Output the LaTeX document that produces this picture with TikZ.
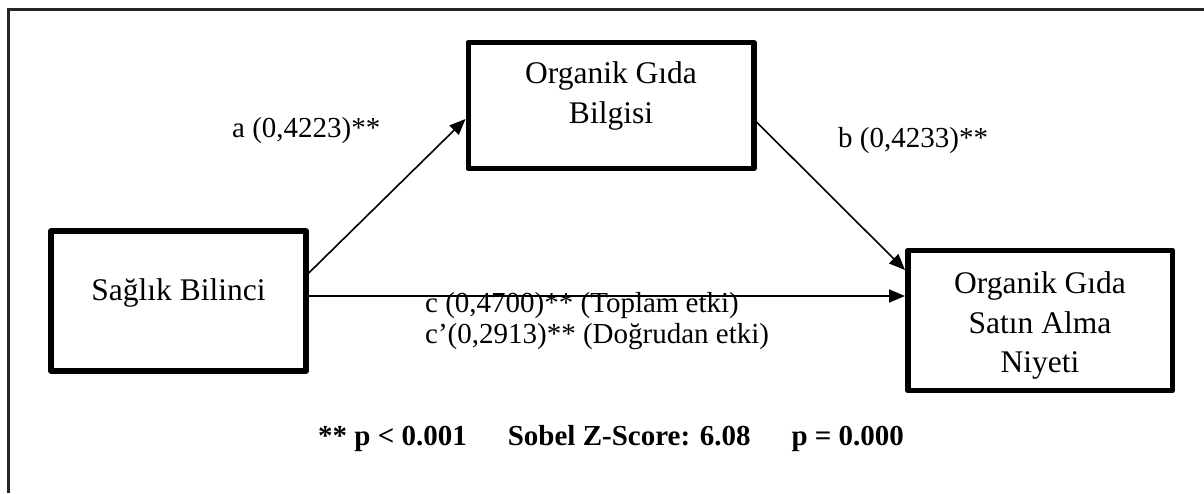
\documentclass[tikz,border=0pt]{standalone}
\usepackage{fontspec}
\setmainfont{Liberation Serif}
\usetikzlibrary{arrows.meta}
\begin{document}
\begin{tikzpicture}[x=1pt,y=-1pt,
  boxst/.style={draw=black, line width=5.5pt, line join=round, inner sep=0pt},
  boxtext/.style={font=\fontsize{31.5}{38}\selectfont, inner sep=0pt, anchor=base},
  lbl/.style={font=\fontsize{29}{34}\selectfont, inner sep=0pt, anchor=base west},
  bot/.style={font=\fontsize{29}{34}\selectfont\bfseries, inner sep=0pt, anchor=base west},
  arr/.style={line width=1.6pt, -{Triangle[length=16pt,width=13pt]}},
  frame/.style={line width=3pt, draw=black!85}
]
\useasboundingbox (0,0) rectangle (1204,493);
\draw[frame] (8,493) -- (8,9) -- (1204,9);

% boxes
\node[boxst, minimum width=255pt, minimum height=140pt] (sb) at (178.5,301) {};
\node[boxst, minimum width=285.5pt, minimum height=126pt] (ogb) at (611,105.5) {};
\node[boxst, minimum width=264.5pt, minimum height=140pt] (ogs) at (1040,320.5) {};

% box texts
\node[boxtext] (sbt) at (178.5,300) {Sağlık Bilinci};
\node[boxtext] (ogb1) at (611,83) {Organik Gıda};
\node[boxtext] (ogb2) at (611,123) {Bilgisi};
\node[boxtext] (ogs1) at (1040,293) {Organik Gıda};
\node[boxtext] (ogs2) at (1040,333) {Satın Alma};
\node[boxtext] (ogs3) at (1040,372) {Niyeti};

% connectors
\coordinate (aS) at ([yshift=28pt]sb.east);
\coordinate (aE) at ([yshift=-13.5pt]ogb.west);
\coordinate (bS) at ([yshift=-16.5pt]ogb.east);
\coordinate (bE) at ([yshift=50.5pt]ogs.west);
\coordinate (cS) at ([yshift=5pt]sb.east);
\draw[arr] (aS) -- (aE);
\draw[arr] (bS) -- (bE);
\draw[arr] (cS) -- (cS -| ogs.west);

% labels
\node[lbl] (la) at (232,137) {a (0,4223)**};
\node[lbl] (lb) at (838,147) {b (0,4233)**};
\node[lbl] (lc1) at (425,312) {c (0,4700)** (Toplam etki)};
\node[lbl] (lc2) at (425,343) {c’(0,2913)** (Doğrudan etki)};
\node[bot] (sobel) at (318,445) {** p < 0.001\hspace{41pt}Sobel Z-Score: 6.08\hspace{41pt}p = 0.000};
\end{tikzpicture}
\end{document}
